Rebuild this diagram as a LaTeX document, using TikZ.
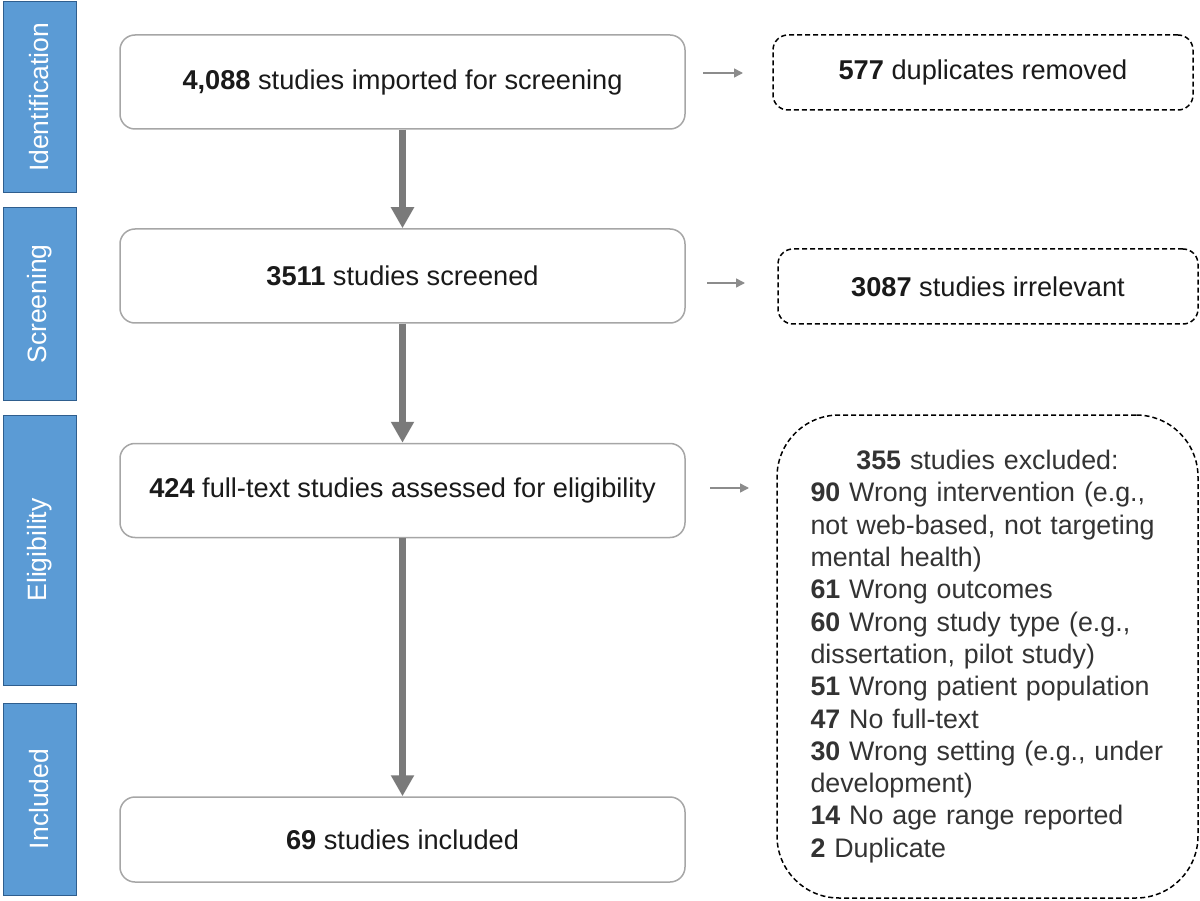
\documentclass[tikz,border=0pt]{standalone}
\usepackage{fontspec}
\setmainfont{Liberation Sans}
\usetikzlibrary{arrows.meta}
\definecolor{barblue}{HTML}{5B9BD5}
\definecolor{bardark}{HTML}{2F5E8E}
\definecolor{boxgray}{HTML}{A6A6A6}
\definecolor{arrowgray}{HTML}{7A7A7A}
\definecolor{thingray}{HTML}{8C8C8C}
\definecolor{txtdark}{HTML}{1A1A1A}
\definecolor{txtgray}{HTML}{333333}
\tikzset{
  phase/.style={draw=bardark, fill=barblue, line width=1pt, text=white, rotate=90,
    minimum height=73pt, inner sep=0pt, font=\fontsize{26.5}{30}\selectfont},
  mainbox/.style={draw=boxgray, line width=1.5pt, rounded corners=15pt, fill=white,
    minimum width=565pt, minimum height=94pt, inner sep=0pt, text=txtdark,
    font=\fontsize{27.2}{30}\selectfont},
  exbox/.style={draw=black, line width=1.5pt, dash pattern=on 5pt off 3pt,
    rounded corners=15pt, inner sep=0pt, text=txtdark, font=\fontsize{27.2}{30}\selectfont},
  bigarrow/.style={draw=arrowgray, line width=7pt, -{Triangle[width=22pt,length=21pt]}, arrowgray},
  smallarrow/.style={draw=thingray, line width=1.5pt, -{Triangle[width=9pt,length=9pt]}, thingray}
}
\begin{document}
\begin{tikzpicture}[x=1pt,y=-1pt]
\useasboundingbox (0,0) rectangle (1200,901);
% phase bars
\node[phase, minimum width=191pt] (p1) at (39.5,97.5) {Identification};
\node[phase, minimum width=192pt] (p2) at (39.5,304) {Screening};
\node[phase, minimum width=270pt] (p3) at (39.5,550) {Eligibility};
\node[phase, minimum width=192pt] (p4) at (39.5,799) {Included};
% main boxes
\node[mainbox] (b1) at (402.5,82) {\textbf{4,088} studies imported for screening};
\node[mainbox] (b2) at (402.5,276) {\textbf{3511} studies screened};
\node[mainbox] (b3) at (402.5,490.5) {\textbf{424} full-text studies assessed for eligibility};
\node[mainbox, minimum height=85pt] (b4) at (402.5,839.5) {\textbf{69} studies included};
% vertical arrows
\draw[bigarrow] (b1.south) -- (b2.north);
\draw[bigarrow] (b2.south) -- (b3.north);
\draw[bigarrow] (b3.south) -- (b4.north);
% exclusion boxes
\node[exbox, minimum width=420pt, minimum height=75pt] (e1) at (983,72.5) {\textbf{577} duplicates removed};
\node[exbox, minimum width=420pt, minimum height=75pt] (e2) at (988,286.5) {\textbf{3087} studies irrelevant};
\node[exbox, rounded corners=62pt, minimum width=421pt, minimum height=483pt] (e3) at (987.5,656.5) {};
\node[text width=360pt, align=left, inner sep=0pt, text=txtgray,
  font=\fontsize{26.8}{32.3}\selectfont] (e3t) at ([xshift=3pt]e3.center) {%
\makebox[354pt][c]{\textbf{355} studies excluded:}\\
\textbf{90} Wrong intervention (e.g.,\\
not web-based, not targeting\\
mental health)\\
\textbf{61} Wrong outcomes\\
\textbf{60} Wrong study type (e.g.,\\
dissertation, pilot study)\\
\textbf{51} Wrong patient population\\
\textbf{47} No full-text\\
\textbf{30} Wrong setting (e.g., under\\
development)\\
\textbf{14} No age range reported\\
\textbf{2} Duplicate};
% side arrows
\coordinate (s1) at (703,73);
\coordinate (t1) at (743,73);
\coordinate (s2) at (707,283);
\coordinate (t2) at (745,283);
\coordinate (s3) at (710,488);
\coordinate (t3) at (749,488);
\draw[smallarrow] (s1) -- (t1);
\draw[smallarrow] (s2) -- (t2);
\draw[smallarrow] (s3) -- (t3);
\end{tikzpicture}
\end{document}
